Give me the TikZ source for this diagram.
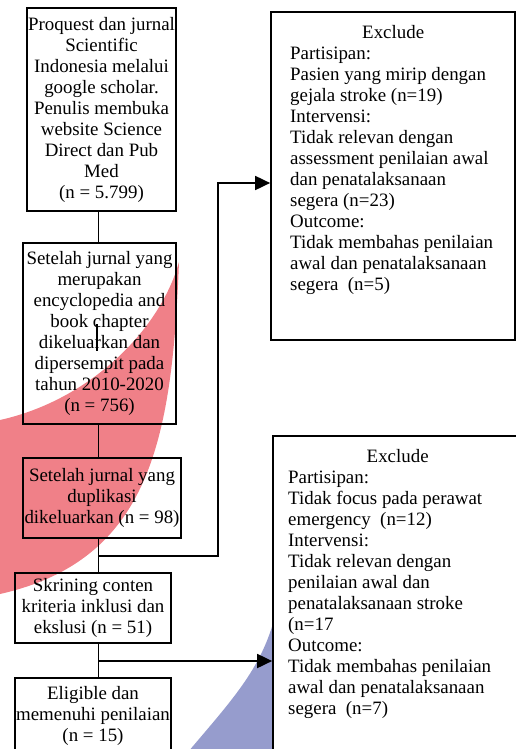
\documentclass[tikz,border=0pt]{standalone}
\usepackage{fontspec}
\setmainfont{Liberation Serif}
\usetikzlibrary{arrows.meta,calc}
\definecolor{blobred}{RGB}{240,128,136}
\definecolor{blobblue}{RGB}{150,156,205}
\begin{document}
\begin{tikzpicture}[x=1bp,y=-1bp,
  every node/.style={font=\fontsize{18.9bp}{21bp}\selectfont, inner sep=0pt},
  flowbox/.style={draw, line width=1.7bp, align=center},
  exbox/.style={draw, line width=1.7bp, fill=white},
  extext/.style={align=left, anchor=north west},
  conn/.style={line width=1.8bp},
  arr/.style={line width=1.8bp, -{Triangle[length=15bp,width=14bp]}}]
\useasboundingbox (0,0) rectangle (516,749);
\clip (0,0) rectangle (516,749);
% background blobs
\fill[blobred] (0,420) .. controls (90,400) and (160,330) .. (179,262)
  .. controls (172,440) and (150,560) .. (0,594) -- cycle;
\fill[blobblue] (188,752) .. controls (232,700) and (260,670) .. (274,620) -- (274,752) -- cycle;
% left flow boxes
\node[flowbox, minimum width=149bp, minimum height=203bp] (b1) at (101.5,109.5)
  {Proquest dan jurnal\\Scientific\\Indonesia melalui\\google scholar.\\Penulis membuka\\website Science\\Direct dan Pub\\Med\\(n = 5.799)};
\node[flowbox, minimum width=153bp, minimum height=181bp] (b2) at (99.5,333.5)
  {Setelah jurnal yang\\merupakan\\encyclopedia and\\book chapter\\dikeluarkan dan\\dipersempit pada\\tahun 2010-2020\\(n = 756)};
\node[flowbox, minimum width=158bp, minimum height=80bp] (b3) at (102,498)
  {Setelah jurnal yang\\duplikasi\\dikeluarkan (n = 98)};
\node[flowbox, minimum width=156bp, minimum height=70bp] (b4) at (93,608)
  {Skrining conten\\kriteria inklusi dan\\ekslusi (n = 51)};
\node[flowbox, minimum width=156bp, minimum height=76bp] (b5) at (93,716)
  {Eligible dan\\memenuhi penilaian\\(n = 15)};
% exclude boxes
\node[exbox, minimum width=244bp, minimum height=328bp] (e1) at (393,176) {};
\node[extext] (e1t) at (290,24.7)
  {\makebox[206bp]{Exclude}\\Partisipan:\\Pasien yang mirip dengan\\gejala stroke (n=19)\\Intervensi:\\Tidak relevan dengan\\assessment penilaian awal\\dan penatalaksanaan\\segera (n=23)\\Outcome:\\Tidak membahas penilaian\\awal dan penatalaksanaan\\segera\ \ (n=5)};
\node[exbox, minimum width=249bp, minimum height=330bp] (e2) at (397.5,601) {};
\node[extext] (e2t) at (288,449.5)
  {\makebox[219bp]{Exclude}\\Partisipan:\\Tidak focus pada perawat\\emergency\ \ (n=12)\\Intervensi:\\Tidak relevan dengan\\penilaian awal dan\\penatalaksanaan stroke\\(n=17\\Outcome:\\Tidak membahas penilaian\\awal dan penatalaksanaan\\segera\ \ (n=7)};
% connectors
\coordinate (sp) at (98.5,0);
\coordinate (j1) at (98.5,556);
\coordinate (k1) at (218,183);
\coordinate (j2) at (98.5,661);
\draw[conn] (b1.south -| sp) -- (b2.north -| sp);
\draw[conn] (b2.south -| sp) -- (b3.north -| sp);
\draw[conn] (b3.south -| sp) -- (b4.north -| sp);
\draw[conn] (b4.south -| sp) -- (b5.north -| sp);
\draw[arr] (j1) -| (k1) -- (k1 -| e1.west);
\draw[arr] (j2) -- (j2 -| e2.west);
\coordinate (s1) at (97,324);
\coordinate (s2) at (97,351);
\draw[conn] (s1) -- (s2);
\end{tikzpicture}
\end{document}
